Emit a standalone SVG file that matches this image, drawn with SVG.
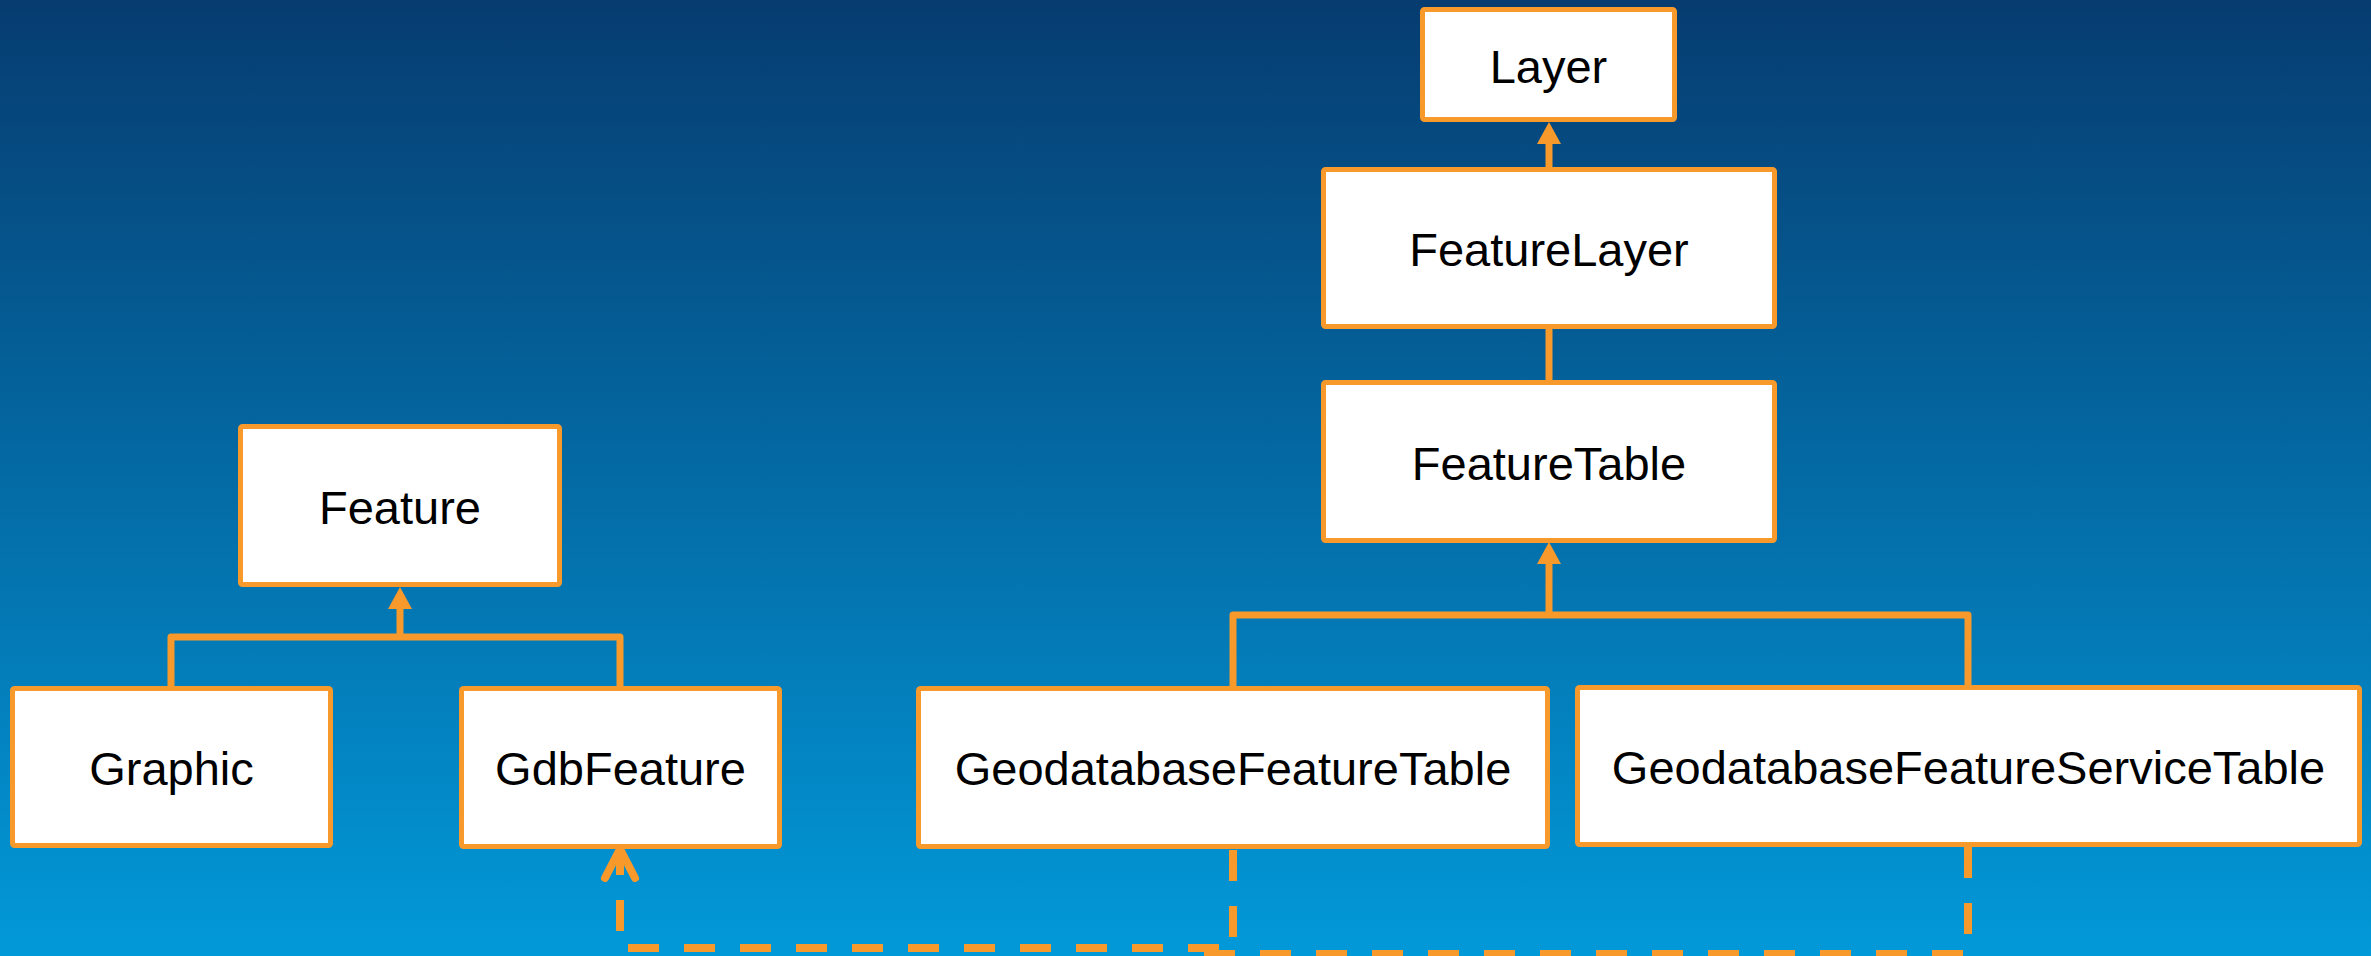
<svg xmlns="http://www.w3.org/2000/svg" width="2371" height="956" viewBox="0 0 2371 956">
  <defs>
    <linearGradient id="bg" x1="0" y1="0" x2="0" y2="1">
      <stop offset="0" stop-color="#063c70"/>
      <stop offset="1" stop-color="#0299d9"/>
    </linearGradient>
    <marker id="tri" markerUnits="userSpaceOnUse" markerWidth="24" markerHeight="26" refX="0" refY="12" orient="auto" overflow="visible">
      <path d="M0,0 L22,12 L0,24 Z" fill="#f7992b"/>
    </marker>
    <marker id="open" markerUnits="userSpaceOnUse" markerWidth="40" markerHeight="40" refX="0" refY="0" orient="auto" overflow="visible">
      <path d="M-29,-15 L0,0 L-29,15" fill="none" stroke="#f7992b" stroke-width="8" stroke-linecap="round" stroke-linejoin="round"/>
    </marker>
    <style>
      .box { fill: #ffffff; stroke: #f7992b; stroke-width: 5; }
      .lbl { font-family: "Liberation Sans", Arial, sans-serif; font-size: 47px; fill: #000000; text-anchor: middle; }
      .solid { fill: none; stroke: #f7992b; stroke-width: 7; stroke-linejoin: round; }
      .dash { fill: none; stroke: #f7992b; stroke-width: 8; stroke-dasharray: 31 25; stroke-linecap: butt; }
    </style>
  </defs>
  <rect x="0" y="0" width="2371" height="956" fill="url(#bg)"/>

  <g id="connectors">
    <path class="solid" d="M1549,168 V144" marker-end="url(#tri)"/>
    <path class="solid" d="M1549,329 V381"/>
    <path class="solid" d="M1233,688 V615 H1968 V686"/>
    <path class="solid" d="M1549,615 V564" marker-end="url(#tri)"/>
    <path class="solid" d="M171,688 V637 H620 V686"/>
    <path class="solid" d="M400,637 V609" marker-end="url(#tri)"/>
    <path class="dash" d="M1233,850 V948 H620 V849" marker-end="url(#open)"/>
    <path class="dash" d="M1968,847 V954 H1204"/>
  </g>

  <g id="node-layer">
    <rect class="box" x="1422.5" y="9.5" width="252" height="110" rx="2"/>
    <text class="lbl" x="1548.5" y="83">Layer</text>
  </g>
  <g id="node-featurelayer">
    <rect class="box" x="1323.5" y="169.5" width="451" height="157" rx="2"/>
    <text class="lbl" x="1549" y="266">FeatureLayer</text>
  </g>
  <g id="node-featuretable">
    <rect class="box" x="1323.5" y="382.5" width="451" height="158" rx="2"/>
    <text class="lbl" x="1549" y="480">FeatureTable</text>
  </g>
  <g id="node-feature">
    <rect class="box" x="240.5" y="426.5" width="319" height="158" rx="2"/>
    <text class="lbl" x="400" y="524">Feature</text>
  </g>
  <g id="node-graphic">
    <rect class="box" x="12.5" y="688.5" width="318" height="157" rx="2"/>
    <text class="lbl" x="171.5" y="785">Graphic</text>
  </g>
  <g id="node-gdbfeature">
    <rect class="box" x="461.5" y="688.5" width="318" height="158" rx="2"/>
    <text class="lbl" x="620.5" y="785">GdbFeature</text>
  </g>
  <g id="node-geodatabasefeaturetable">
    <rect class="box" x="918.5" y="688.5" width="629" height="158" rx="2"/>
    <text class="lbl" x="1233" y="785">GeodatabaseFeatureTable</text>
  </g>
  <g id="node-geodatabasefeatureservicetable">
    <rect class="box" x="1577.5" y="687.5" width="782" height="157" rx="2"/>
    <text class="lbl" x="1968.5" y="784">GeodatabaseFeatureServiceTable</text>
  </g>
</svg>
